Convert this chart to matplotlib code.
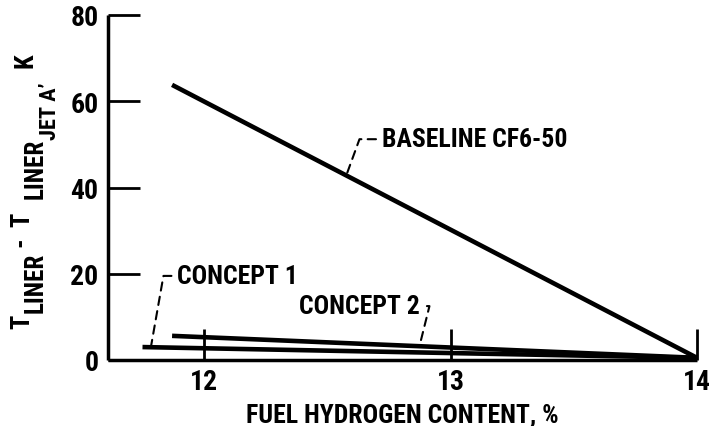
import matplotlib
matplotlib.use("Agg")
import matplotlib.pyplot as plt

fam = ['Roboto Condensed', 'DejaVu Sans']
plt.rcParams['font.family'] = fam
plt.rcParams['font.weight'] = 'bold'

# Data
hydrogen = [11.87, 14.0]
baseline = [63.8, 0.5]
concept1_x = [11.75, 14.0]
concept1 = [3.0, 0.5]
concept2_x = [11.87, 14.0]
concept2 = [5.6, 0.5]
xticks = [12, 13, 14]
yticks = [0, 20, 40, 60, 80]

W, H = 712, 427
fig = plt.figure(figsize=(W / 100, H / 100), dpi=100)
left, right, bottom, top = 108 / W, 697 / W, (H - 361) / H, (H - 16) / H
ax = fig.add_axes([left, bottom, right - left, top - bottom])
ax.set_xlim(11.61, 14.0)
ax.set_ylim(0, 80)

lw = 3.3
ax.plot(hydrogen, baseline, color='black', lw=lw, solid_capstyle='butt', clip_on=False)
ax.plot(concept1_x, concept1, color='black', lw=lw, solid_capstyle='butt', clip_on=False)
ax.plot(concept2_x, concept2, color='black', lw=lw, solid_capstyle='butt', clip_on=False)

for s in ['top', 'right']:
    ax.spines[s].set_visible(False)
for s in ['left', 'bottom']:
    ax.spines[s].set_linewidth(2.5)
    ax.spines[s].set_capstyle('butt')

ax.set_xticks(xticks)
ax.set_yticks(yticks)
ax.tick_params(axis='y', direction='in', length=23, width=2, pad=7, labelsize=20)
ax.tick_params(axis='x', direction='in', length=22, width=2, pad=6, labelsize=20)
for lab in ax.get_xticklabels() + ax.get_yticklabels():
    lab.set_fontweight('bold')

ax.set_xlabel('FUEL HYDROGEN CONTENT, %', fontsize=18.5, fontweight='bold', labelpad=5)

# Y label built from pieces (main text, subscript, sub-subscript), rotated
ylabel_pieces = [
    # (text, fontsize, baseline x px, start y px from top)
    ("T", 19, 29, 329),
    ("LINER", 18, 43, 313),
    ("-", 19, 27, 247),
    ("T", 19, 29, 227),
    ("LINER", 18, 43, 199),
    ("JET A\u2019", 16, 56, 140),
    ("K", 19, 33, 68),
]
for txt, fs, xb, ys in ylabel_pieces:
    fig.text(xb / W, (H - ys) / H, txt, fontsize=fs, fontweight='bold',
             rotation=90, rotation_mode='anchor', ha='left', va='baseline')

dash = dict(arrowstyle='-', ls=(0, (4, 3)), lw=1.5, color='black', shrinkB=0)
ax.annotate('BASELINE CF6-50', xy=(12.575, 42.5), xytext=(12.72, 51.2),
            fontsize=18.5, fontweight='bold', va='center', ha='left',
            arrowprops=dict(dash, connectionstyle='angle,angleA=0,angleB=70,rad=0', shrinkA=2))
ax.annotate('CONCEPT 1', xy=(11.785, 3.3), xytext=(11.89, 19.5),
            fontsize=18.5, fontweight='bold', va='center', ha='left',
            arrowprops=dict(dash, connectionstyle='angle,angleA=0,angleB=80,rad=0', shrinkA=2))
ax.annotate('CONCEPT 2', xy=(12.876, 3.7), xytext=(12.876, 12.5),
            fontsize=18.5, fontweight='bold', va='center', ha='right',
            arrowprops=dict(dash, connectionstyle='angle,angleA=0,angleB=76,rad=0', shrinkA=3))

fig.savefig('out.png', dpi=100)
